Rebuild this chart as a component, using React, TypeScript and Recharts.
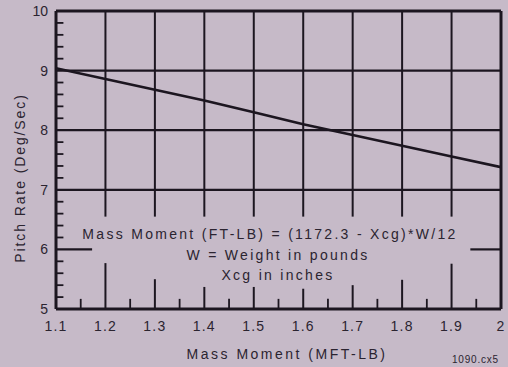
import React from "react";
import { LineChart, Line, XAxis, YAxis, ReferenceLine } from "recharts";

// Data
const massMoment = [1.1, 1.2, 1.3, 1.4, 1.5, 1.6, 1.7, 1.8, 1.9, 2.0];
const pitchRate = [9.04, 8.86, 8.68, 8.5, 8.3, 8.1, 7.92, 7.74, 7.56, 7.38];

// Axis ticks
const xTicks = [1.1, 1.2, 1.3, 1.4, 1.5, 1.6, 1.7, 1.8, 1.9, 2.0];
const yTicks = [5, 6, 7, 8, 9, 10];

// Grid pieces (data units)
const xMajor = [1.2, 1.3, 1.4, 1.5, 1.6, 1.7, 1.8, 1.9];
const majorTickTops = [5.77, 5.5, 5.37, 5.37, 5.34, 5.4, 5.49, 5.76];
const upperGridBottom = 6.55;
const xMinor = [1.15, 1.25, 1.35, 1.45, 1.55, 1.65, 1.75, 1.85, 1.95];
const minorTickTop = 5.17;
const yFullGrid = [7, 8, 9, 10];
const yMinor = [5.2, 5.4, 5.6, 5.8, 6.2, 6.4, 6.6, 6.8, 7.2, 7.4, 7.6, 7.8, 8.2, 8.4, 8.6, 8.8, 9.2, 9.4, 9.6, 9.8];
const yMinorEnd = 1.115;
const sixStubs = [
  [1.1, 1.173],
  [1.938, 2.0],
];

const notes = [
  "Mass Moment (FT-LB) = (1172.3 - Xcg)*W/12",
  "W = Weight in pounds",
  "Xcg in inches",
];

const data = massMoment.map((m, i) => ({ m, p: pitchRate[i] }));

const BG = "#c6bac8";
const INK = "#1c1620";
const TXT = "#2b2430";
const FONT = "'Liberation Sans', Arial, sans-serif";

export default function App() {
  const textStyle: React.CSSProperties = {
    position: "absolute",
    fontFamily: FONT,
    fontSize: 14,
    color: TXT,
    letterSpacing: 2.3,
    whiteSpace: "nowrap",
    transform: "translate(-50%, -50%)",
    lineHeight: 1,
  };
  const noteX = [270, 278, 278];
  const noteY = [234, 255, 275];
  return (
    <div
      style={{
        position: "absolute",
        left: 0,
        top: 0,
        width: 508,
        height: 367,
        background: BG,
        overflow: "hidden",
      }}
    >
      <LineChart
        width={508}
        height={367}
        data={data}
        margin={{ top: 11, right: 7, bottom: 28, left: 0 }}
      >
        <XAxis
          dataKey="m"
          type="number"
          domain={[1.1, 2.0]}
          ticks={xTicks}
          tickFormatter={(v: number) => (v === 2 ? "2" : v.toFixed(1))}
          height={30}
          axisLine={{ stroke: INK, strokeWidth: 3 }}
          tickLine={false}
          tickSize={0}
          tickMargin={12}
          tick={{ fill: TXT, fontSize: 14, fontFamily: FONT, letterSpacing: 1.2 }}
          allowDataOverflow
        />
        <YAxis
          type="number"
          domain={[5, 10]}
          ticks={yTicks}
          width={56}
          axisLine={{ stroke: INK, strokeWidth: 3 }}
          tickLine={false}
          tickSize={0}
          tickMargin={8}
          tick={{ fill: TXT, fontSize: 14, fontFamily: FONT }}
          allowDataOverflow
        />
        {yFullGrid.map((y) => (
          <ReferenceLine
            key={"h" + y}
            y={y}
            stroke={INK}
            strokeWidth={y === 10 ? 3 : 2.2}
            ifOverflow="visible"
          />
        ))}
        <ReferenceLine x={2.0} stroke={INK} strokeWidth={3} ifOverflow="visible" />
        {xMajor.map((x) => (
          <ReferenceLine
            key={"vt" + x}
            segment={[
              { x, y: 10 },
              { x, y: upperGridBottom },
            ]}
            stroke={INK}
            strokeWidth={2}
            ifOverflow="visible"
          />
        ))}
        {xMajor.map((x, i) => (
          <ReferenceLine
            key={"vb" + x}
            segment={[
              { x, y: 5 },
              { x, y: majorTickTops[i] },
            ]}
            stroke={INK}
            strokeWidth={2}
            ifOverflow="visible"
          />
        ))}
        {xMinor.map((x) => (
          <ReferenceLine
            key={"mn" + x}
            segment={[
              { x, y: 5 },
              { x, y: minorTickTop },
            ]}
            stroke={INK}
            strokeWidth={1.8}
            ifOverflow="visible"
          />
        ))}
        {yMinor.map((y) => (
          <ReferenceLine
            key={"ym" + y}
            segment={[
              { x: 1.1, y },
              { x: yMinorEnd, y },
            ]}
            stroke={INK}
            strokeWidth={1.8}
            ifOverflow="visible"
          />
        ))}
        {sixStubs.map((s, i) => (
          <ReferenceLine
            key={"six" + i}
            segment={[
              { x: s[0], y: 6 },
              { x: s[1], y: 6 },
            ]}
            stroke={INK}
            strokeWidth={2.2}
            ifOverflow="visible"
          />
        ))}
        <Line
          type="linear"
          dataKey="p"
          stroke={INK}
          strokeWidth={2.6}
          dot={false}
          isAnimationActive={false}
        />
      </LineChart>
      {notes.map((n, i) => (
        <div key={n} style={{ ...textStyle, left: noteX[i], top: noteY[i] }}>
          {n}
        </div>
      ))}
      <div style={{ ...textStyle, left: 287, top: 354, letterSpacing: 2.5 }}>
        Mass Moment (MFT-LB)
      </div>
      <div
        style={{
          ...textStyle,
          left: 20,
          top: 178,
          letterSpacing: 1.9,
          transform: "translate(-50%, -50%) rotate(-90deg)",
        }}
      >
        Pitch Rate (Deg/Sec)
      </div>
      <div
        style={{
          position: "absolute",
          left: 452,
          top: 355,
          fontFamily: FONT,
          fontSize: 10,
          color: TXT,
          letterSpacing: 0.8,
          lineHeight: 1,
          whiteSpace: "nowrap",
        }}
      >
        1090.cx5
      </div>
    </div>
  );
}
